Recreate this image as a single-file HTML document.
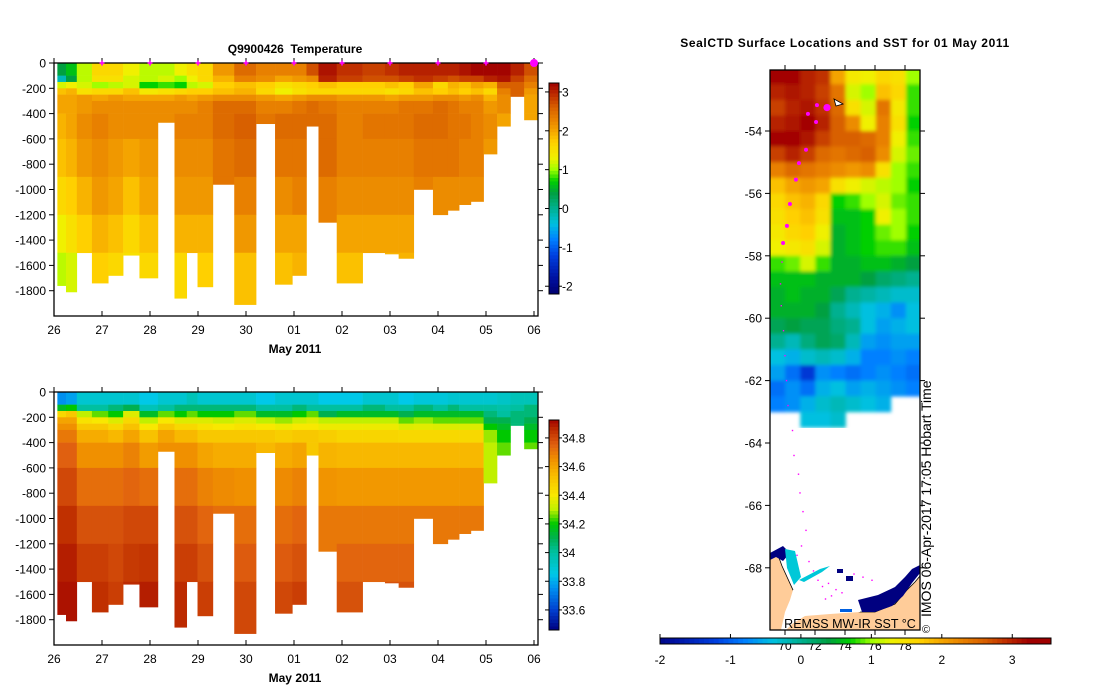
<!DOCTYPE html>
<html><head><meta charset="utf-8">
<style>
html,body{margin:0;padding:0;background:#fff;}
svg{display:block;font-family:"Liberation Sans",sans-serif;}
</style></head>
<body>
<svg id="root" width="1099" height="700" viewBox="0 0 1099 700" xmlns="http://www.w3.org/2000/svg">
<defs><filter id="soft" x="0" y="0" width="1" height="1"><feGaussianBlur stdDeviation="1.8"/></filter></defs>
<text x="295" y="53" font-size="12" font-weight="bold" text-anchor="middle" style="white-space:pre">Q9900426  Temperature</text>
<text x="845" y="47" font-size="12" font-weight="bold" text-anchor="middle" letter-spacing="0.6">SealCTD Surface Locations and SST for 01 May 2011</text>
<g id="tplot"></g>
<g id="splot"></g>
<g id="map"></g>
</svg>
<script>
// ---------- section data ----------
const profileDays = [0.16,0.34,0.61,0.97,1.29,1.59,1.97,2.36,2.66,2.87,3.11,3.51,4.0,4.42,4.79,5.14,5.38,5.64,6.14,6.72,7.07,7.29,7.70,8.09,8.32,8.56,8.81,9.09,9.37,9.65,9.94];
const maxDepth = [1760,1810,1500,1740,1680,1520,1700,470,1860,1500,1770,960,1910,480,1750,1680,500,1260,1740,1500,1510,1545,1000,1200,1165,1120,1095,720,500,265,450];
const binEdges = [0,100,150,200,250,300,400,600,900,1200,1500,2000];
const tempProfiles = [
[0.4,-0.2,1.2,1.8,2.0,2.0,1.9,1.8,1.6,1.3,1.1],
[0.6,0.4,1.3,1.9,2.0,2.0,2.0,1.9,1.7,1.5,1.2],
[1.1,1.1,1.2,1.5,2.1,2.1,2.2,2.1,1.9,1.7,1.5],
[1.6,1.5,1.0,1.6,2.0,2.2,2.3,2.2,2.1,1.9,1.7],
[1.6,1.5,1.1,1.6,2.1,2.2,2.2,2.1,2.0,1.8,1.6],
[1.3,1.2,1.2,1.8,2.0,2.2,2.2,2.0,1.8,1.6,1.5],
[1.1,1.1,0.7,1.4,2.0,2.2,2.2,2.1,2.0,1.8,1.6],
[1.1,1.2,0.8,1.5,2.0,2.2,2.2,2.2,2.2,2.2,2.2],
[1.3,1.0,0.7,1.6,2.1,2.2,2.3,2.2,2.1,1.9,1.6],
[1.5,1.3,1.1,1.7,2.0,2.2,2.3,2.2,2.1,1.9,1.7],
[1.6,1.6,1.2,1.7,2.1,2.3,2.3,2.2,2.1,1.9,1.7],
[2.1,1.9,1.7,1.8,2.2,2.5,2.5,2.4,2.4,2.4,2.4],
[2.5,2.3,1.8,1.9,2.2,2.5,2.6,2.5,2.3,2.1,1.8],
[2.3,2.2,1.7,1.6,2.1,2.3,2.4,2.4,2.4,2.4,2.4],
[2.3,2.0,1.5,1.3,2.0,2.3,2.5,2.4,2.2,2.0,1.8],
[2.3,2.1,1.6,1.5,2.1,2.4,2.5,2.4,2.3,2.0,1.9],
[2.7,2.2,1.7,1.6,2.2,2.5,2.5,2.5,2.5,2.5,2.5],
[3.1,3.0,1.8,1.6,2.2,2.4,2.5,2.5,2.3,2.3,2.3],
[2.9,2.8,1.7,1.6,2.1,2.3,2.3,2.3,2.2,2.0,1.8],
[2.8,2.7,1.7,1.6,2.1,2.3,2.4,2.3,2.2,2.0,2.0],
[2.9,2.7,1.8,1.5,2.0,2.3,2.4,2.3,2.2,2.0,1.9],
[3.0,2.8,1.7,1.6,2.1,2.4,2.4,2.3,2.2,2.0,1.9],
[3.0,2.9,2.0,1.8,2.1,2.4,2.5,2.4,2.3,2.3,2.3],
[3.0,2.8,1.6,1.7,2.2,2.5,2.5,2.4,2.2,2.2,2.2],
[3.0,2.7,1.9,1.8,2.2,2.4,2.4,2.4,2.2,2.2,2.2],
[3.1,2.8,1.8,1.7,2.1,2.3,2.4,2.3,2.2,2.2,2.2],
[3.2,2.8,2.0,1.8,2.2,2.3,2.3,2.3,2.2,2.2,2.2],
[3.2,3.0,1.9,1.6,1.9,2.1,2.2,2.1,2.1,2.1,2.1],
[3.2,3.1,2.6,2.3,2.2,2.2,2.0,2.0,2.0,2.0,2.0],
[3.0,2.8,2.6,2.6,2.6,2.6,2.6,2.6,2.6,2.6,2.6],
[2.7,2.5,2.3,2.1,2.0,2.0,2.0,2.0,2.0,2.0,2.0]];
const salProfiles = [
[33.75,34.15,34.45,34.6,34.65,34.7,34.75,34.8,34.85,34.88,34.9],
[33.78,34.2,34.5,34.6,34.65,34.7,34.75,34.8,34.85,34.88,34.9],
[33.9,34.0,34.3,34.42,34.5,34.58,34.65,34.72,34.78,34.82,34.85],
[33.9,34.0,34.25,34.4,34.5,34.58,34.65,34.72,34.78,34.82,34.85],
[33.9,34.05,34.2,34.35,34.45,34.55,34.65,34.72,34.78,34.8,34.82],
[33.9,34.1,34.35,34.45,34.52,34.6,34.68,34.74,34.8,34.83,34.86],
[33.85,33.95,34.15,34.3,34.4,34.52,34.62,34.72,34.8,34.84,34.88],
[33.9,34.0,34.25,34.4,34.5,34.6,34.65,34.65,34.65,34.65,34.65],
[33.9,34.05,34.2,34.35,34.45,34.55,34.65,34.72,34.78,34.82,34.86],
[33.95,34.05,34.25,34.35,34.45,34.55,34.65,34.72,34.78,34.82,34.85],
[33.9,34.05,34.2,34.35,34.42,34.5,34.6,34.68,34.74,34.78,34.82],
[33.9,34.05,34.2,34.32,34.4,34.5,34.58,34.66,34.72,34.72,34.72],
[33.9,34.05,34.25,34.35,34.42,34.5,34.58,34.65,34.72,34.76,34.8],
[33.85,34.0,34.15,34.3,34.4,34.5,34.55,34.55,34.55,34.55,34.55],
[33.9,34.0,34.15,34.28,34.38,34.48,34.58,34.66,34.72,34.76,34.8],
[33.9,34.05,34.2,34.32,34.4,34.5,34.6,34.68,34.74,34.78,34.82],
[33.9,34.0,34.25,34.35,34.4,34.5,34.5,34.5,34.5,34.5,34.5],
[33.85,34.0,34.1,34.3,34.38,34.48,34.56,34.64,34.7,34.7,34.7],
[33.85,34.0,34.15,34.3,34.38,34.46,34.55,34.63,34.7,34.74,34.78],
[33.9,34.05,34.15,34.3,34.38,34.46,34.55,34.63,34.7,34.74,34.78],
[33.9,34.0,34.15,34.3,34.38,34.46,34.55,34.63,34.7,34.74,34.78],
[33.85,34.0,34.1,34.25,34.35,34.45,34.55,34.63,34.7,34.74,34.78],
[33.88,34.05,34.15,34.28,34.36,34.45,34.55,34.63,34.7,34.7,34.7],
[33.88,34.0,34.15,34.25,34.35,34.45,34.55,34.63,34.7,34.72,34.72],
[33.9,34.05,34.15,34.25,34.35,34.45,34.55,34.63,34.7,34.72,34.72],
[33.9,34.0,34.15,34.25,34.35,34.45,34.55,34.63,34.7,34.7,34.7],
[33.9,34.0,34.15,34.25,34.35,34.45,34.55,34.63,34.7,34.7,34.7],
[33.9,34.0,34.05,34.1,34.2,34.28,34.3,34.3,34.3,34.3,34.3],
[33.92,33.98,34.0,34.1,34.15,34.2,34.25,34.25,34.25,34.25,34.25],
[33.95,34.0,34.05,34.05,34.05,34.05,34.05,34.05,34.05,34.05,34.05],
[33.95,34.05,34.05,34.1,34.15,34.2,34.25,34.25,34.25,34.25,34.25]];
const dayTickLabels = ["26","27","28","29","30","01","02","03","04","05","06"];
const depthTicks = [0,-200,-400,-600,-800,-1000,-1200,-1400,-1600,-1800];
const tempBarTicks = [3,2,1,0,-1,-2];
const salBarTicks = [34.8,34.6,34.4,34.2,34,33.6];
const salBarLabels = ["34.8","34.6","34.4","34.2","34","33.6"];
const salBarTicks2 = [33.8];
// ---------- map data ----------
const latTicks = [-54,-56,-58,-60,-62,-64,-66,-68];
const lonTicks = [70,72,74,76,78];
const sstLon0 = 69, sstDLon = 1.007, sstLat0 = -52.0, sstDLat = 0.5;
const sstGrid = [
[3.2,3.2,3.0,2.9,2.0,1.4,1.3,1.6,1.5,1.0],
[3.0,3.1,3.0,2.8,2.4,1.2,1.0,1.8,1.6,0.8],
[2.8,3.0,3.1,2.9,2.5,1.5,1.2,2.4,1.4,0.8],
[3.0,3.1,3.2,3.0,2.6,2.2,1.3,2.3,1.5,0.7],
[3.2,3.2,3.1,2.8,2.6,2.6,2.5,2.3,1.3,0.8],
[2.8,3.0,2.8,2.5,2.4,2.5,2.6,2.2,1.2,0.9],
[2.3,2.5,2.4,2.3,2.2,2.1,2.2,1.5,1.0,0.8],
[1.8,2.0,2.1,2.0,1.5,1.3,1.2,1.1,1.0,0.7],
[1.6,1.8,1.9,1.6,0.7,0.8,1.0,1.2,0.9,0.8],
[1.5,1.7,1.8,1.5,0.6,0.6,0.7,1.3,1.0,0.8],
[1.4,1.6,1.7,1.3,0.5,0.6,0.7,0.9,1.0,0.7],
[1.3,1.4,1.5,1.2,0.5,0.6,0.7,0.8,0.8,0.6],
[0.8,0.9,1.2,0.8,0.5,0.5,0.6,0.6,0.5,0.4],
[0.6,0.6,0.6,0.5,0.5,0.5,0.4,0.2,0.1,0.0],
[0.5,0.6,0.5,0.5,0.3,0.0,-0.1,-0.2,-0.3,-0.3],
[0.5,0.5,0.5,0.4,0.0,-0.2,-0.4,-0.5,-0.7,-0.4],
[0.3,0.4,0.3,0.3,0.1,0.0,-0.4,-0.6,-0.5,-0.4],
[0.0,-0.2,0.1,0.3,0.2,-0.2,-0.6,-0.7,-0.6,-0.6],
[-0.4,-0.5,-0.3,-0.2,-0.3,-0.5,-0.8,-0.8,-0.7,-0.8],
[-0.6,-0.9,-1.3,-0.7,-0.8,-0.9,-0.8,-0.7,-0.8,-0.9],
[-0.9,-0.7,-0.9,-0.5,-0.4,-0.6,-0.5,-0.6,-0.7,-0.8],
[-0.8,-0.7,-0.5,-0.3,-0.2,-0.3,-0.4,-0.5,null,null],
[null,null,-0.4,-0.4,-0.3,null,null,null,null,null]];
const trackLon = [72.8,72.13,71.53,72.07,71.4,70.93,70.73,70.33,70.13,69.87];
const trackLat = [-53.25,-53.17,-53.45,-53.71,-54.6,-55.03,-55.56,-56.34,-57.04,-57.59];
const dotLon = [69.8,69.7,69.75,69.9,70.0,70.1,70.2,70.5,70.6,70.9,71.0,71.2,71.4,71.1,70.8,71.6,71.9,72.2,72.5,72.9,73.1,73.4,72.7,74.6,75.2,75.8,73.8];
const dotLat = [-58.2,-58.9,-59.6,-60.4,-61.2,-62.0,-62.8,-63.6,-64.4,-65.0,-65.6,-66.2,-66.8,-67.3,-67.6,-67.8,-68.1,-68.4,-68.6,-68.5,-68.9,-68.7,-69.0,-68.2,-68.3,-68.4,-68.8];

// ---------- helpers ----------
const NS="http://www.w3.org/2000/svg";
function mk(tag,attrs,parent){const e=document.createElementNS(NS,tag);for(const k in attrs)e.setAttribute(k,attrs[k]);parent.appendChild(e);return e;}
function hex(h){return [parseInt(h.slice(1,3),16),parseInt(h.slice(3,5),16),parseInt(h.slice(5,7),16)];}
function cmap(stops){return function(v){if(v<=stops[0][0])return stops[0][1];for(let i=1;i<stops.length;i++){if(v<=stops[i][0]){const a=stops[i-1],b=stops[i];const t=(v-a[0])/(b[0]-a[0]);const c1=hex(a[1]),c2=hex(b[1]);return "rgb("+c1.map((c,j)=>Math.round(c+(c2[j]-c)*t)).join(",")+")";}}return stops[stops.length-1][1];};}
const tColor=cmap([[-2.2,"#000070"],[-1.8,"#0010a0"],[-1.2,"#0040e0"],[-0.8,"#0080ff"],[-0.4,"#00c0e0"],[0,"#00b090"],[0.4,"#00a040"],[0.7,"#00d000"],[1.0,"#a0ff00"],[1.3,"#f0f000"],[1.7,"#ffd000"],[2.0,"#f4a400"],[2.3,"#e88000"],[2.6,"#d86000"],[2.9,"#c03000"],[3.23,"#a00000"]]);
const sColor=cmap([[33.46,"#000080"],[33.6,"#0040d0"],[33.75,"#0090f0"],[33.85,"#00c8e8"],[34.0,"#00c0a0"],[34.1,"#00b050"],[34.2,"#00c800"],[34.3,"#c0f000"],[34.4,"#f8e800"],[34.55,"#f8b800"],[34.65,"#f09000"],[34.75,"#e06010"],[34.85,"#c03000"],[34.93,"#a00000"]]);

function section(g,top,profiles,colorFn,barTop,barBot,barMin,barMax,ticks,labels,extraTicks,marks){
  const L=54,R=538,bottom=top+253;
  const xS=d=>54+d*48;
  const yS=m=>top+m*0.1265;
  for(let i=0;i<profileDays.length;i++){
    const xl=i===0?xS(profileDays[0]-(profileDays[1]-profileDays[0])/2):xS((profileDays[i-1]+profileDays[i])/2);
    const xr=i===profileDays.length-1?xS(profileDays[i]+(profileDays[i]-profileDays[i-1])/2):xS((profileDays[i]+profileDays[i+1])/2);
    for(let b=0;b<binEdges.length-1;b++){
      if(binEdges[b]>=maxDepth[i])break;
      const d1=Math.min(binEdges[b+1],maxDepth[i]);
      const r=mk("rect",{x:xl.toFixed(2),y:yS(binEdges[b]).toFixed(2),width:(Math.min(xr,R)-xl+0.3).toFixed(2),height:(yS(d1)-yS(binEdges[b])+0.3).toFixed(2),fill:colorFn(profiles[i][b])},g);
      
      
    }
  }
  mk("rect",{x:L,y:top,width:R-L,height:bottom-top,fill:"none",stroke:"#000","stroke-width":1.3},g);
  depthTicks.forEach(v=>{const y=yS(-v);
    mk("line",{x1:L-5,x2:L,y1:y,y2:y,stroke:"#000"},g);
    mk("line",{x1:R,x2:R+5,y1:y,y2:y,stroke:"#000"},g);
    const t=mk("text",{x:L-8,y:y+4.5,"font-size":12,"text-anchor":"end"},g);t.textContent=v;
    
  });
  dayTickLabels.forEach((lab,i)=>{const x=xS(i);
    mk("line",{x1:x,x2:x,y1:bottom-5,y2:bottom,stroke:"#000"},g);
    mk("line",{x1:x,x2:x,y1:top-5,y2:top,stroke:"#000"},g);
    const t=mk("text",{x:x,y:bottom+18,"font-size":12,"text-anchor":"middle"},g);t.textContent=lab;
    
    if(marks&&i>0&&i<10){const c=mk("path",{d:`M${x-2.5},${top}h5M${x},${top-2.5}v5`,stroke:"#ff00ff","stroke-width":1.6},g);}
  });
  if(marks){const c=mk("circle",{cx:xS(10),cy:top,r:4,fill:"#ff00ff"},g);}
  const xl=mk("text",{x:295,y:bottom+37,"font-size":12,"font-weight":"bold","text-anchor":"middle"},g);xl.textContent="May 2011";
  
  const bx=549,bw=10,n=60;
  for(let k=0;k<n;k++){const v0=barMax-(barMax-barMin)*k/n;const y=barTop+(barBot-barTop)*k/n;
    mk("rect",{x:bx,y:y.toFixed(2),width:bw,height:((barBot-barTop)/n+0.4).toFixed(2),fill:colorFn(v0-(barMax-barMin)/n/2)},g);}
  mk("rect",{x:bx,y:barTop,width:bw,height:barBot-barTop,fill:"none",stroke:"#000"},g);
  const yb=v=>barTop+(barMax-v)/(barMax-barMin)*(barBot-barTop);
  ticks.forEach((v,i)=>{const y=yb(v);
    mk("line",{x1:bx-4,x2:bx,y1:y,y2:y,stroke:"#000"},g);mk("line",{x1:bx+bw,x2:bx+bw+3,y1:y,y2:y,stroke:"#000"},g);
    const t=mk("text",{x:bx+bw+3,y:y+4.5,"font-size":12},g);t.textContent=labels[i];
    });
  extraTicks.forEach(v=>{const y=yb(v);mk("line",{x1:bx-4,x2:bx,y1:y,y2:y,stroke:"#000"},g);mk("line",{x1:bx+bw,x2:bx+bw+3,y1:y,y2:y,stroke:"#000"},g);
    const t=mk("text",{x:bx+bw+3,y:y+4.5,"font-size":12},g);t.textContent=String(v);
    });
}
section(document.getElementById("tplot"),63,tempProfiles,tColor,83,294,-2.2,3.23,tempBarTicks,tempBarTicks.map(String),[],true);
section(document.getElementById("splot"),392,salProfiles,sColor,420,630,33.46,34.925,salBarTicks,salBarLabels,salBarTicks2,false);

// ---------- map ----------
(function(){
  const g=document.getElementById("map");
  const L=770,R=920,T=70,B=630;
  const xS=lon=>L+(lon-69)*15;
  const yS=lat=>131+(-54-lat)*31.2;
  mk("rect",{x:L,y:T,width:R-L,height:B-T,fill:"#fff"},g);
  const cp=mk("clipPath",{id:"mapclip"},g);mk("rect",{x:L,y:T,width:R-L,height:B-T},cp);
  const cg=mk("g",{"clip-path":"url(#mapclip)"},g);
  const sg=mk("g",{filter:"url(#soft)"},cg);
  sstGrid.forEach((row,r)=>row.forEach((v,c)=>{ if(v===null)return;
    const x0=xS(sstLon0+c*sstDLon),x1=xS(sstLon0+(c+1)*sstDLon),y0=yS(sstLat0-r*sstDLat),y1=yS(sstLat0-(r+1)*sstDLat);
    const e=mk("rect",{x:(c===0?x0-4:x0).toFixed(2),y:(r===0?y0-4:y0).toFixed(2),width:(x1-x0+0.4+(c===0||c===9?4:0)).toFixed(2),height:(y1-y0+0.4+(r===0?4:0)).toFixed(2),fill:tColor(v)},sg);
    }));
  const land=mk("path",{d:"M770,558L778,555L782,566L793,590L800,600L860,612L875,612L895,604L907,590L915,582L920,576L920,630L770,630Z",fill:"#ffcc99",stroke:"#000","stroke-width":0.8},cg);
  
  mk("path",{d:"M793,590L820,586L855,590L872,600L860,612L830,614L805,616L792,624L786,630L781,630L785,612L790,600Z",fill:"#fff"},cg);
  mk("path",{d:"M770,553L783,546L790,553L783,561L776,557L770,560Z",fill:"#000080"},cg);
  mk("path",{d:"M785,549L795,551L801,577L794,585L787,568Z",fill:"#00c8d8"},cg);
  mk("path",{d:"M858,600L878,595L895,587L905,577L912,569L920,565L920,573L912,583L903,596L892,606L875,612L862,612Z",fill:"#000080"},cg);
  mk("path",{d:"M799,580L820,569L830,566L822,572L804,582Z",fill:"#00c8d8"},cg);
  mk("rect",{x:837,y:569,width:6,height:4,fill:"#000080"},cg);
  mk("rect",{x:846,y:576,width:7,height:5,fill:"#000080"},cg);
  mk("rect",{x:840,y:609,width:12,height:3,fill:"#0060e0"},cg);
  dotLon.forEach((lo,i)=>{const e=mk("rect",{x:xS(lo)-0.7,y:yS(dotLat[i])-0.7,width:1.4,height:1.4,fill:"#ff00ff"},cg);
    });
  trackLon.forEach((lo,i)=>{const e=mk("circle",{cx:xS(lo),cy:yS(trackLat[i]),r:i===0?3.6:2,fill:"#ff00ff"},cg);
    });
  mk("path",{d:"M834,99L843,104L836,106Z",fill:"#fff",stroke:"#000","stroke-width":0.8},cg);
  const rem=mk("text",{x:850,y:628,"font-size":12.5,"text-anchor":"middle"},cg);rem.textContent="REMSS MW-IR SST °C";
  
  mk("rect",{x:L,y:T,width:R-L,height:B-T,fill:"none",stroke:"#000","stroke-width":1.3},g);
  latTicks.forEach(v=>{const y=yS(v);mk("line",{x1:L-5,x2:L,y1:y,y2:y,stroke:"#000"},g);mk("line",{x1:R,x2:R+5,y1:y,y2:y,stroke:"#000"},g);
    const t=mk("text",{x:L-8,y:y+4.5,"font-size":12,"text-anchor":"end"},g);t.textContent=v;
    });
  lonTicks.forEach(v=>{const x=xS(v);mk("line",{x1:x,x2:x,y1:T-5,y2:T,stroke:"#000"},g);mk("line",{x1:x,x2:x,y1:B,y2:B+5,stroke:"#000"},g);
    const t=mk("text",{x:x,y:650,"font-size":12,"text-anchor":"middle"},g);t.textContent=v;
    });
  const side=mk("text",{x:0,y:0,"font-size":14,transform:"translate(931,617) rotate(-90)"},g);side.textContent="IMOS 06-Apr-2017 17:05 Hobart Time";
  
  const cpy=mk("text",{x:926,y:633,"font-size":11,"text-anchor":"middle"},g);cpy.textContent="©";
  const bx0=660,bx1=1051,by=638,bh=6,bmin=-2.0,bmax=3.55,n=80;
  const xb=v=>bx0+(v-bmin)/(bmax-bmin)*(bx1-bx0);
  for(let k=0;k<n;k++){const v=bmin+(bmax-bmin)*(k+0.5)/n;const x=bx0+(bx1-bx0)*k/n;
    mk("rect",{x:x.toFixed(2),y:by,width:((bx1-bx0)/n+0.4).toFixed(2),height:bh,fill:tColor(v)},g);}
  mk("rect",{x:bx0,y:by,width:bx1-bx0,height:bh,fill:"none",stroke:"#000"},g);
  [-2,-1,0,1,2,3].forEach(v=>{const x=xb(v);mk("line",{x1:x,x2:x,y1:by-4,y2:by,stroke:"#000"},g);
    const t=mk("text",{x:x,y:664,"font-size":12,"text-anchor":"middle"},g);t.textContent=v;
    });
})();
</script>
</body></html>
